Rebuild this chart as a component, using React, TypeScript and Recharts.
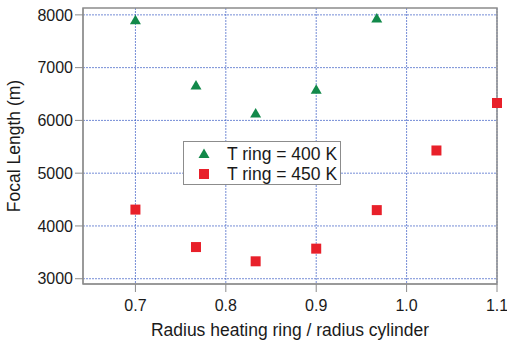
import {
  ScatterChart,
  Scatter,
  XAxis,
  YAxis,
  CartesianGrid,
  ReferenceArea,
} from "recharts";

const ratio400 = [0.7, 0.767, 0.833, 0.9, 0.967];
const focal400 = [7900, 6660, 6130, 6580, 7930];

const ratio450 = [0.7, 0.767, 0.833, 0.9, 0.967, 1.033, 1.1];
const focal450 = [4310, 3600, 3330, 3570, 4300, 5430, 6330];

const xTicks = [0.7, 0.8, 0.9, 1.0, 1.1];
const yTicks = [3000, 4000, 5000, 6000, 7000, 8000];

const GREEN = "#12894a";
const RED = "#e8202a";
const FRAME = "#8c8c8c";
const INK = "#1a1a1a";
const FONT = "'Liberation Sans', Arial, sans-serif";

const data400 = ratio400.map((x, i) => ({ x, y: focal400[i] }));
const data450 = ratio450.map((x, i) => ({ x, y: focal450[i] }));

const Triangle = ({ cx, cy }: any) => (
  <polygon
    points={`${cx},${cy - 5.5} ${cx + 5.5},${cy + 4} ${cx - 5.5},${cy + 4}`}
    fill={GREEN}
  />
);

const Square = ({ cx, cy }: any) => (
  <rect x={cx - 5} y={cy - 5} width={10} height={10} fill={RED} />
);

// drawn over the plot, the chart's own Legend would steal height
function LegendBox() {
  const row = { display: "flex", alignItems: "center", height: 20 };
  return (
    <div
      style={{
        position: "absolute",
        left: 183,
        top: 141,
        width: 158,
        height: 44,
        border: `1px solid ${FRAME}`,
        background: "#fff",
        fontFamily: FONT,
        fontSize: 17.5,
        color: INK,
        paddingTop: 2,
        boxSizing: "border-box",
        whiteSpace: "nowrap",
      }}
    >
      <div style={row}>
        <svg width={43} height={20}>
          <polygon points="20,4.5 25.5,14 14.5,14" fill={GREEN} />
        </svg>
        <span>T ring = 400 K</span>
      </div>
      <div style={row}>
        <svg width={43} height={20}>
          <rect x={15} y={5} width={10} height={10} fill={RED} />
        </svg>
        <span>T ring = 450 K</span>
      </div>
    </div>
  );
}

export default function App() {
  const tick = { fill: INK, fontSize: 16, fontFamily: FONT };
  return (
    <div style={{ position: "absolute", left: 0, top: 0, background: "#fff" }}>
      <ScatterChart
        width={507}
        height={344}
        margin={{ top: 8, right: 10, bottom: 0, left: 8 }}
      >
        <CartesianGrid
          stroke="#3b5bc4"
          strokeDasharray="2 1"
          strokeOpacity={0.7}
          horizontalValues={yTicks}
          verticalValues={xTicks}
        />
        <XAxis
          type="number"
          dataKey="x"
          domain={[0.642, 1.1]}
          ticks={xTicks}
          tickFormatter={(v: number) => v.toFixed(1)}
          height={60}
          stroke={FRAME}
          tickSize={8}
          tick={{ ...tick, dy: 6 }}
          label={{
            value: "Radius heating ring / radius cylinder",
            position: "insideBottom",
            offset: 8,
            fill: INK,
            fontSize: 17.5,
            fontFamily: FONT,
          }}
        />
        <YAxis
          type="number"
          dataKey="y"
          domain={[2900, 8130]}
          ticks={yTicks}
          width={75}
          stroke={FRAME}
          tickSize={8}
          tick={tick}
          label={{
            value: "Focal Length (m)",
            angle: -90,
            position: "insideLeft",
            offset: 6,
            style: { textAnchor: "middle" },
            fill: INK,
            fontSize: 17.5,
            fontFamily: FONT,
          }}
        />
        <ReferenceArea
          x1={0.642}
          x2={1.1}
          y1={2900}
          y2={8130}
          fill="none"
          stroke={FRAME}
          strokeWidth={1.5}
          ifOverflow="visible"
        />
        <Scatter
          name="T ring = 400 K"
          data={data400}
          shape={<Triangle />}
          isAnimationActive={false}
        />
        <Scatter
          name="T ring = 450 K"
          data={data450}
          shape={<Square />}
          isAnimationActive={false}
        />
      </ScatterChart>
      <LegendBox />
    </div>
  );
}
